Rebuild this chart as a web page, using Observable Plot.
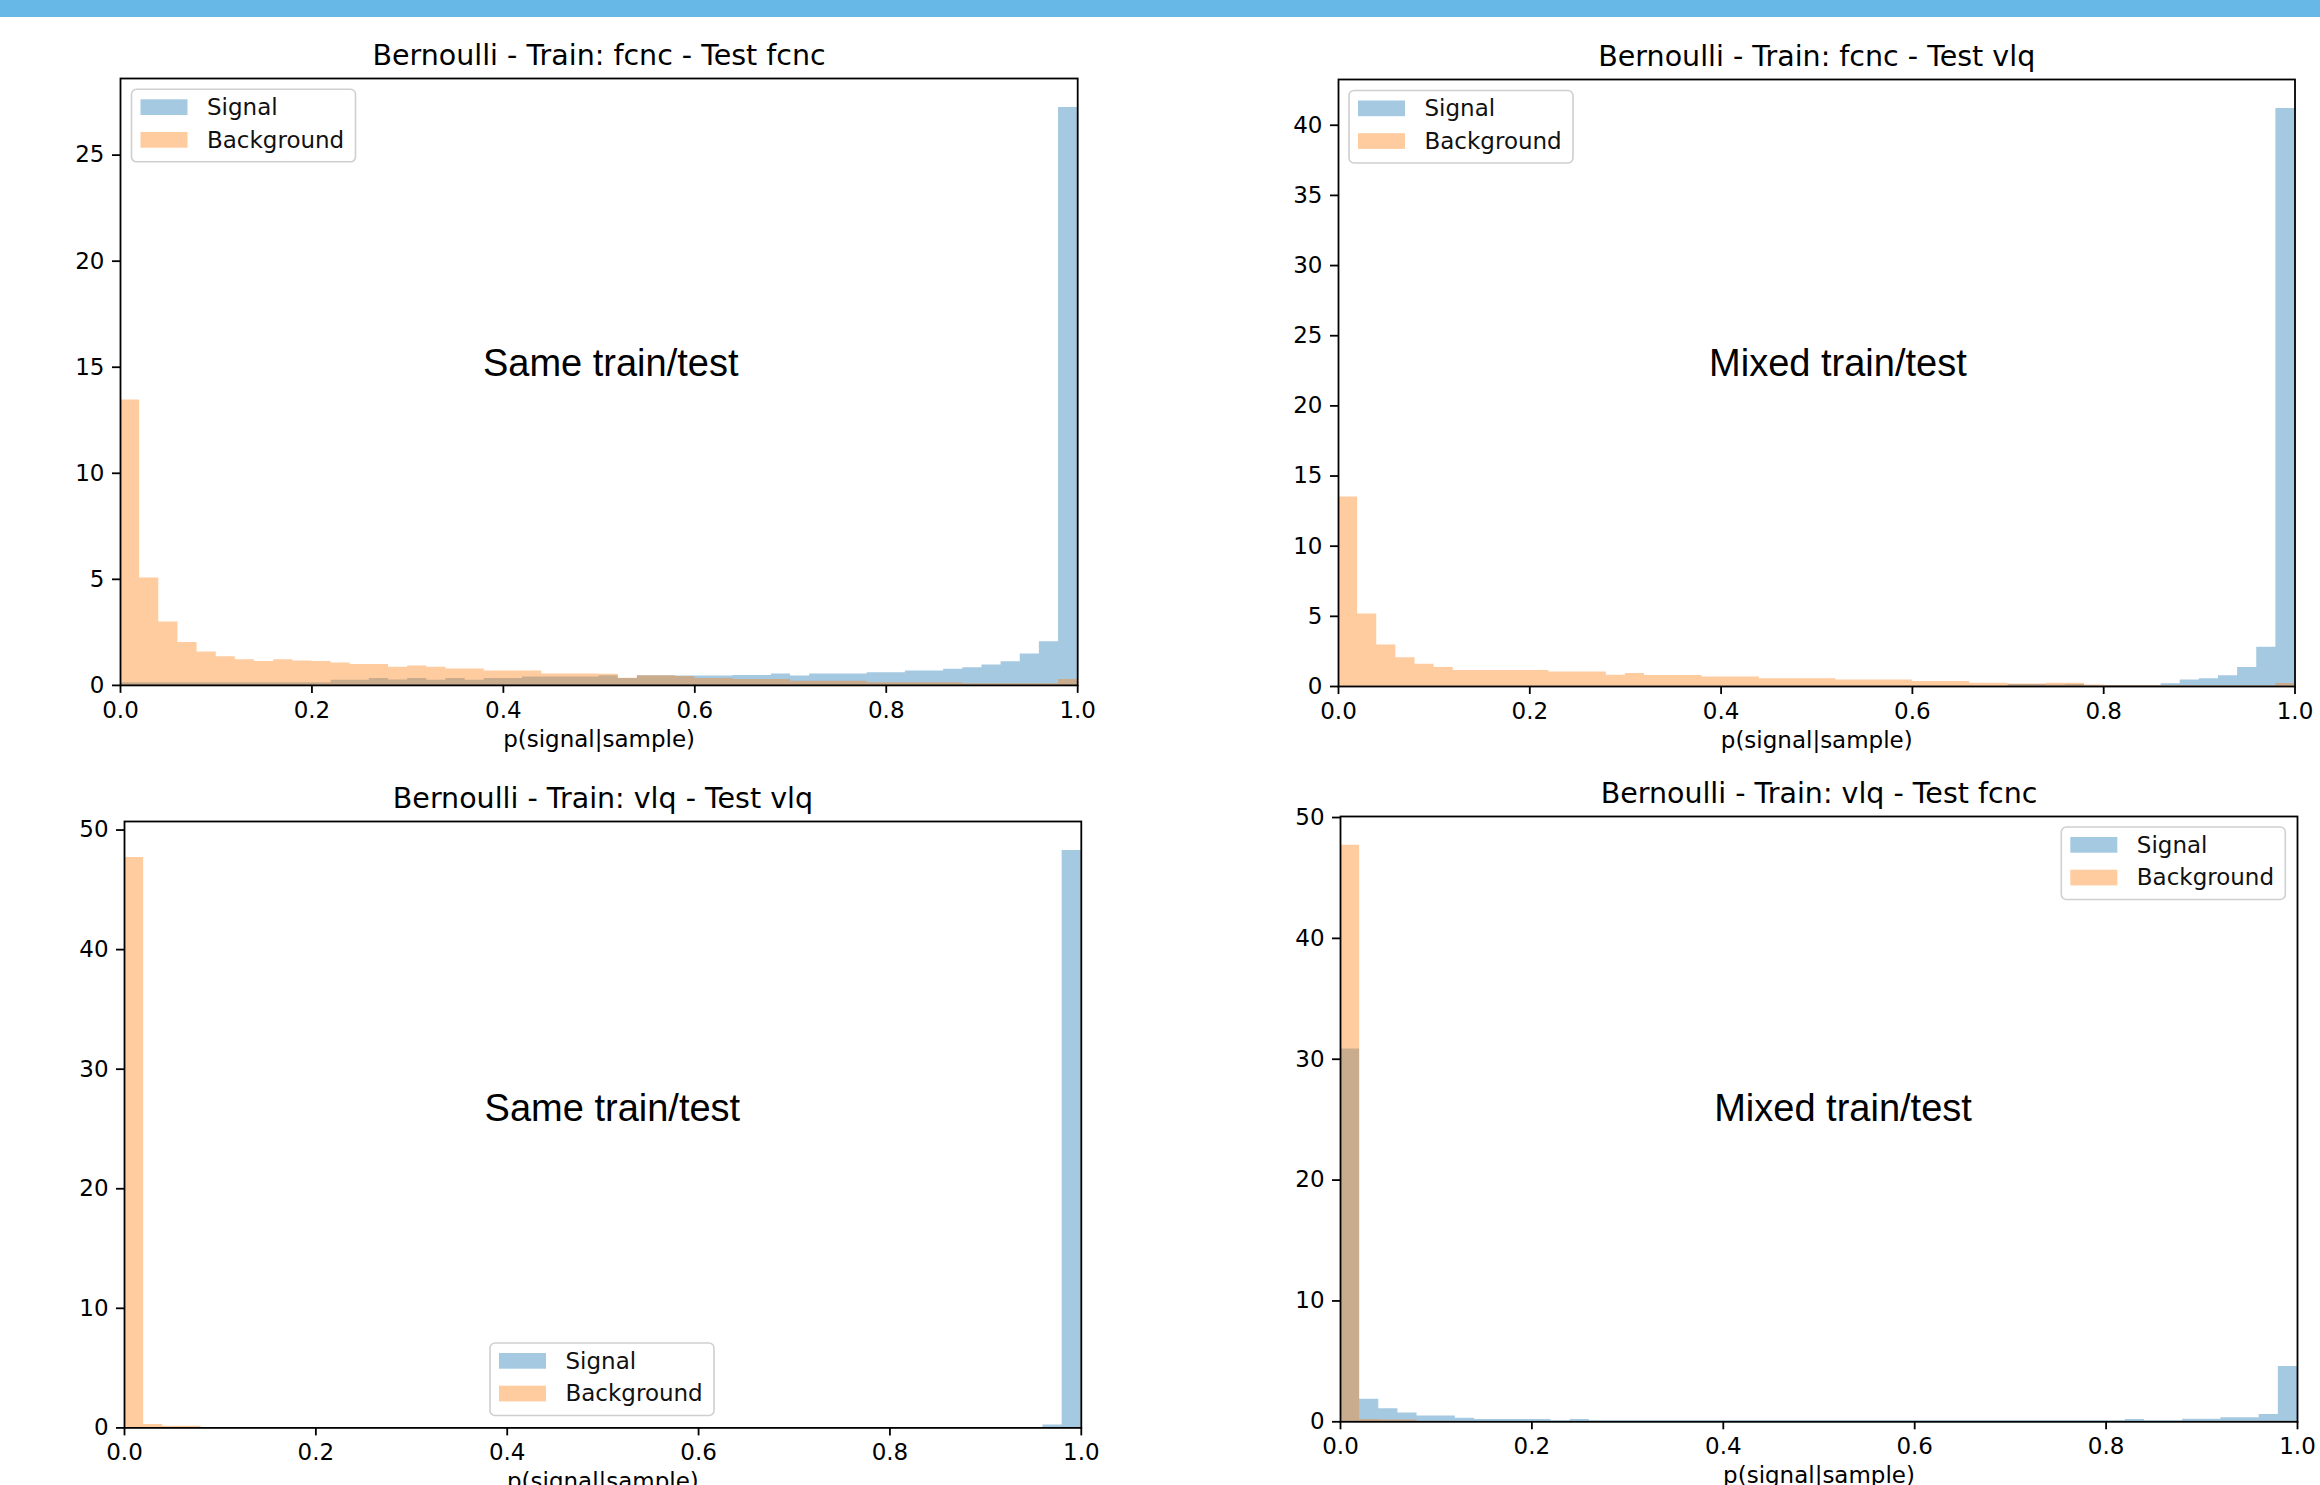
<!DOCTYPE html>
<html><head><meta charset="utf-8">
<script src="https://cdn.jsdelivr.net/npm/d3@7"></script>
<script src="https://cdn.jsdelivr.net/npm/@observablehq/plot@0.6"></script>
<style>
html,body{margin:0;padding:0;background:#fff;}
#page{position:relative;width:2320px;height:1485px;overflow:hidden;background:#fff;}
#topbar{position:absolute;left:0;top:0;width:2320px;height:17px;background:#67b8e6;}
</style></head><body><div id="page"><div id="topbar"></div></div>
<script>
// ---------- data ----------
const seriesNames = ["Signal", "Background"];
const seriesColors = ["#1f77b4", "#ff7f0e"];
const xTicks = [0, 0.2, 0.4, 0.6, 0.8, 1.0];
const xLabel = "p(signal|sample)";
const titles = [
  "Bernoulli - Train: fcnc - Test fcnc",
  "Bernoulli - Train: fcnc - Test vlq",
  "Bernoulli - Train: vlq - Test vlq",
  "Bernoulli - Train: vlq - Test fcnc"
];
const annotations = ["Same train/test", "Mixed train/test", "Same train/test", "Mixed train/test"];
const yTicks1 = [0, 5, 10, 15, 20, 25];
const yTicks2 = [0, 5, 10, 15, 20, 25, 30, 35, 40];
const yTicks3 = [0, 10, 20, 30, 40, 50];
const yTicks4 = [0, 10, 20, 30, 40, 50];

// 50 bins on [0,1], density values
const signal1 = [0.12,0.12,0.13,0.13,0.13,0.13,0.13,0.13,0.13,0.13,
  0.13,0.24,0.24,0.33,0.25,0.33,0.24,0.33,0.24,0.33,
  0.33,0.39,0.39,0.39,0.39,0.45,0.33,0.45,0.45,0.44,
  0.44,0.44,0.47,0.47,0.54,0.44,0.54,0.54,0.54,0.60,
  0.60,0.68,0.68,0.76,0.83,0.96,1.12,1.48,2.06,27.25];
const background1 = [13.45,5.06,2.99,2.02,1.57,1.35,1.21,1.13,1.21,1.15,
  1.13,1.06,0.98,0.98,0.85,0.91,0.85,0.77,0.77,0.68,
  0.68,0.68,0.54,0.54,0.54,0.52,0.34,0.46,0.46,0.42,
  0.33,0.33,0.28,0.28,0.28,0.20,0.20,0.20,0.20,0.13,
  0.13,0.13,0.13,0.13,0.08,0.08,0.08,0.08,0.08,0.28];

const signal2 = [0.02,0.02,0.02,0.02,0.02,0.02,0.02,0.02,0.02,0.02,
  0.02,0.02,0.02,0.02,0.02,0.02,0.02,0.02,0.02,0.02,
  0.02,0.02,0.02,0.02,0.02,0.02,0.02,0.02,0.02,0.02,
  0.03,0.03,0.03,0.03,0.03,0.15,0.15,0.10,0.15,0.05,
  0.08,0.08,0.08,0.20,0.46,0.56,0.77,1.35,2.80,41.2];
const background2 = [13.5,5.17,2.95,2.05,1.59,1.35,1.14,1.14,1.14,1.14,
  1.14,1.03,1.03,1.03,0.80,0.92,0.78,0.78,0.78,0.68,
  0.68,0.68,0.56,0.56,0.56,0.56,0.46,0.46,0.46,0.46,
  0.36,0.36,0.36,0.24,0.24,0.17,0.17,0.24,0.24,0.10,
  0.08,0.08,0.08,0.06,0.06,0.06,0.06,0.06,0.06,0.22];

const signal3 = [0,0,0,0,0,0,0,0,0,0,
  0,0,0,0,0,0,0,0,0,0,
  0,0,0,0,0,0,0,0,0,0,
  0,0,0,0,0,0,0,0,0,0,
  0,0,0,0,0,0,0,0,0.25,48.3];
const background3 = [47.7,0.28,0.14,0.14,0,0,0,0,0,0,
  0,0,0,0,0,0,0,0,0,0,
  0,0,0,0,0,0,0,0,0,0,
  0,0,0,0,0,0,0,0,0,0,
  0,0,0,0,0,0,0,0,0,0];

const signal4 = [30.85,1.87,1.07,0.72,0.47,0.47,0.30,0.19,0.19,0.19,
  0.19,0.08,0.19,0.08,0.08,0.08,0.08,0.08,0.08,0.08,
  0.08,0.08,0.08,0.08,0.08,0.08,0.08,0.08,0.08,0.08,
  0.08,0.08,0.08,0.08,0.08,0.08,0.08,0.08,0.08,0.08,
  0.08,0.19,0.08,0.08,0.22,0.22,0.33,0.33,0.60,4.58];
const background4 = [47.7,0.19,0.14,0.14,0,0,0,0,0,0,
  0,0,0,0,0,0,0,0,0,0,
  0,0,0,0,0,0,0,0,0,0,
  0,0,0,0,0,0,0,0,0,0,
  0,0,0,0,0,0,0,0,0,0];

// ---------- layout ----------
const panels = [
  {L:120,    T:77.8,  R:1077.2, B:684.7, sig:signal1, bkg:background1, yTicks:yTicks1, legend:"tl", ann:[610.7,375.7]},
  {L:1337.5, T:79,    R:2294,   B:686,   sig:signal2, bkg:background2, yTicks:yTicks2, legend:"tl", ann:[1837.9,375.7]},
  {L:123.6,  T:820.6, R:1080.4, B:1427,  sig:signal3, bkg:background3, yTicks:yTicks3, legend:"bc", ann:[612.4,1120.6]},
  {L:1339.8, T:815.5, R:2296.8, B:1420.8,sig:signal4, bkg:background4, yTicks:yTicks4, legend:"tr", ann:[1843,1120.6]}
];

const page = document.getElementById("page");
const mL = 70, mT = 45, mR = 20, mB = 80;
const FONT = "DejaVu Sans";

function steps(vals, name) {
  const n = vals.length;
  const pts = vals.map((v, i) => ({series: name, x: i / n, y: v}));
  pts.push({series: name, x: 1, y: vals[n - 1]});
  return pts;
}

panels.forEach((p, k) => {
  const fw = p.R - p.L, fh = p.B - p.T;
  const maxV = d3.max([...p.sig, ...p.bkg]);
  const data = [...steps(p.sig, seriesNames[0]), ...steps(p.bkg, seriesNames[1])];
  const svg = Plot.plot({
    width: fw + mL + mR, height: fh + mT + mB,
    marginLeft: mL, marginTop: mT, marginRight: mR, marginBottom: mB,
    style: {fontFamily: FONT, fontSize: "23px", color: "#000", background: "transparent", overflow: "visible"},
    x: {domain: [0, 1]},
    y: {domain: [0, maxV * 1.05]},
    color: {domain: seriesNames, range: seriesColors},
    marks: [
      Plot.areaY(data, {x: "x", y1: 0, y2: "y", z: "series", fill: "series", fillOpacity: 0.4, curve: "step-after"}),
      Plot.frame({stroke: "#000", strokeWidth: 1.8}),
      Plot.axisX({ticks: xTicks, tickFormat: d3.format(".1f"), tickSize: 8, tickPadding: 8, strokeWidth: 1.8, label: null, fontSize: 23}),
      Plot.axisY({ticks: p.yTicks, tickFormat: d3.format("d"), tickSize: 8, tickPadding: 8, strokeWidth: 1.8, label: null, fontSize: 23}),
      Plot.text([titles[k]], {text: d => d, frameAnchor: "top", dy: -22.5, fontSize: 28.5, lineAnchor: "middle"}),
      Plot.text([xLabel], {text: d => d, frameAnchor: "bottom", dy: 54, fontSize: 23, lineAnchor: "middle"})
    ]
  });
  svg.style.position = "absolute";
  svg.style.left = (p.L - mL) + "px";
  svg.style.top = (p.T - mT) + "px";
  page.appendChild(svg);
});

// ---------- overlay: legends and slide annotations ----------
const overlay = d3.select(page).append("svg")
  .attr("width", 2320).attr("height", 1485)
  .style("position", "absolute").style("left", 0).style("top", 0);

const LW = 224, LH = 72.5, pad = 11.5;
panels.forEach((p, k) => {
  let x, y;
  if (p.legend === "tl") { x = p.L + pad; y = p.T + pad; }
  else if (p.legend === "tr") { x = p.R - pad - LW; y = p.T + pad; }
  else { x = (p.L + p.R) / 2 - LW / 2; y = p.B - pad - LH; }
  const g = overlay.append("g");
  g.append("rect").attr("x", x).attr("y", y).attr("width", LW).attr("height", LH).attr("rx", 5)
    .attr("fill", "#fff").attr("fill-opacity", 0.8).attr("stroke", "#cfcfcf").attr("stroke-width", 1.6);
  seriesNames.forEach((name, i) => {
    const ry = y + 10 + i * 32.7;
    g.append("rect").attr("x", x + 9).attr("y", ry).attr("width", 47).attr("height", 15.7)
      .attr("fill", seriesColors[i]).attr("fill-opacity", 0.4);
    g.append("text").attr("x", x + 75.5).attr("y", ry + 15.7).text(name)
      .style("font-family", FONT).style("font-size", "23px").attr("fill", "#111");
  });
  overlay.append("text").attr("x", p.ann[0]).attr("y", p.ann[1]).attr("text-anchor", "middle")
    .style("font-family", "Liberation Sans, Arial, sans-serif").style("font-size", "38px").attr("fill", "#000")
    .text(annotations[k]);
});
</script>
</body></html>
